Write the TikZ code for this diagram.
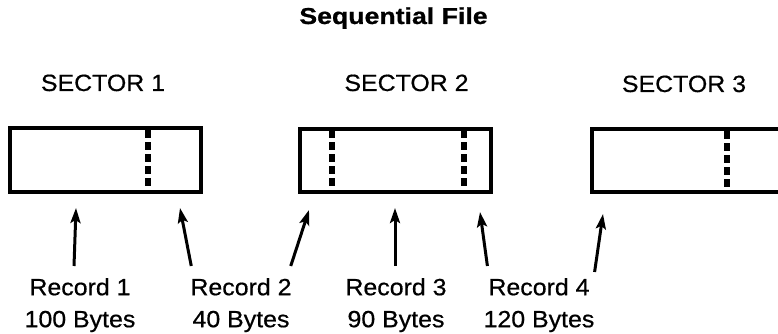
\documentclass[tikz,border=0pt]{standalone}
\usepackage{fontspec}
\setmainfont{Liberation Sans}[FakeStretch=1.06,FakeBold=0.6]
\newfontfamily\titlefont{Liberation Sans Bold}[FakeStretch=1.16,FakeBold=0.8]
\usetikzlibrary{arrows.meta,calc}
\begin{document}
\begin{tikzpicture}[x=1pt,y=-1pt,
  lbl/.style={font=\fontsize{23.5}{32}\selectfont, inner sep=0pt, align=center},
  sect/.style={font=\fontsize{23.5}{28}\selectfont, inner sep=0pt, anchor=base},
  boxline/.style={line width=4pt, line join=miter},
  sepline/.style={line width=6pt, dash pattern=on 8pt off 4pt},
  arr/.style={line width=3pt, -{Stealth[length=15pt,width=10pt,inset=3pt]}}]
\useasboundingbox (0,0) rectangle (778,334);
% title
\node[inner sep=0pt, anchor=base, font=\titlefont\fontsize{23}{26}\selectfont] (title) at (393.5,24) {Sequential File};
% sector labels
\node[sect] (s1) at (103,91) {SECTOR 1};
\node[sect] (s2) at (406.5,91) {SECTOR 2};
\node[sect] (s3) at (684,92) {SECTOR 3};
% boxes
\draw[boxline] (9.5,128) rectangle (201,192);
\draw[boxline] (300,128.5) rectangle (491,192);
\draw[boxline] (778,129) -- (592,129) -- (592,192) -- (778,192);
% record separators
\draw[sepline] (147.5,130) -- (147.5,190);
\draw[sepline] (331.5,130) -- (331.5,190);
\draw[sepline] (463.5,130) -- (463.5,190);
\draw[sepline] (727,131) -- (727,190);
% record labels
\node[lbl, anchor=north] (r1) at (80,278) {Record 1\\100 Bytes};
\node[lbl, anchor=north] (r2) at (241,278) {Record 2\\40 Bytes};
\node[lbl, anchor=north] (r3) at (396,278) {Record 3\\90 Bytes};
\node[lbl, anchor=north] (r4) at (539,278) {Record 4\\120 Bytes};
% arrow tips
\coordinate (t1) at (76,208);
\coordinate (t2) at (180,208);
\coordinate (t3) at (309,210);
\coordinate (t4) at (395,208);
\coordinate (t5) at (480,212);
\coordinate (t6) at (603,214);
% arrows
\draw[arr] ($(r1.north)+(-6,-12)$) -- (t1);
\draw[arr] ($(r2.north west)+(1,-12)$) -- (t2);
\draw[arr] ($(r2.north east)+(-1,-12)$) -- (t3);
\draw[arr] ($(r3.north)+(-1,-12)$) -- (t4);
\draw[arr] ($(r4.north west)+(4,-12)$) -- (t5);
\draw[arr] ($(r4.north east)+(0,-6)$) -- (t6);
\end{tikzpicture}
\end{document}
